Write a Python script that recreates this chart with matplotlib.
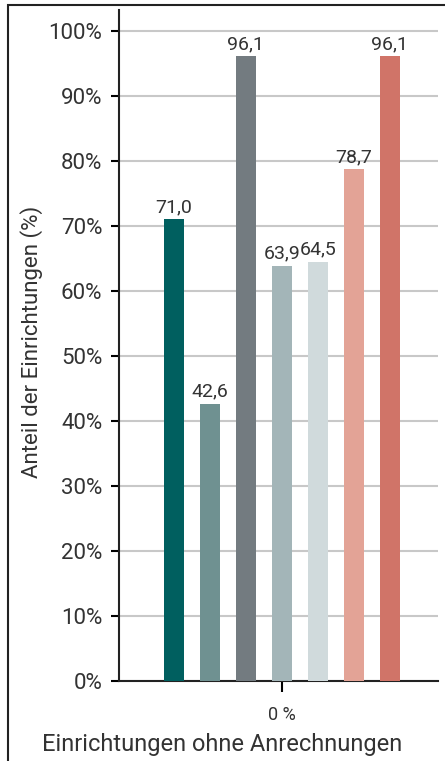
import numpy as np
import matplotlib.pyplot as plt
from matplotlib.patches import Rectangle

# Werte (%)
groups = ['0 %']
values = [71.0, 42.6, 96.1, 63.9, 64.5, 78.7, 96.1]
labels = ['71,0', '42,6', '96,1', '63,9', '64,5', '78,7', '96,1']
colors = ['#005f5f', '#6f9191', '#737b80', '#a3b5b8', '#d0dadc', '#e3a396', '#d07468']
yticks = np.arange(0, 101, 10)

plt.rcParams['font.family'] = ['Roboto', 'DejaVu Sans']
txt = '#333333'

fig = plt.figure(figsize=(4.45, 7.61), dpi=100)
ax = fig.add_axes([119 / 445, 80 / 761, 319 / 445, 671 / 761])

step = 0.113
width = 0.063
n = len(values)
for i, (v, lab, c) in enumerate(zip(values, labels, colors)):
    x = (i - (n - 1) / 2) * step
    ax.bar(x, v, width=width, color=c, zorder=3)
    ax.text(x, v + 0.5, lab, ha='center', va='bottom', fontsize=14, color=txt)

ax.set_xlim(-0.51, 0.49)
ax.set_ylim(0, 103.2)
ax.set_yticks(yticks)
ax.set_yticklabels([f'{t}%' for t in yticks], fontsize=16, color=txt)
ax.set_xticks([0])
ax.set_xticklabels(groups, fontsize=13, color=txt)
ax.tick_params(axis='y', length=6, width=1.5, pad=6)
ax.tick_params(axis='x', length=8, width=1.5, pad=10)
ax.grid(axis='y', color='#c8c8c8', linewidth=1.5, zorder=0)
for s in ['top', 'right']:
    ax.spines[s].set_visible(False)
for s in ['left', 'bottom']:
    ax.spines[s].set_linewidth(1.5)
    ax.spines[s].set_color('#222222')

ax.set_ylabel('Anteil der Einrichtungen (%)', fontsize=16, color=txt, va='center')
ax.yaxis.set_label_coords((32 - 119) / 319, (681 - 342) / 671)
fig.text(222 / 445, 1 - 745 / 761, 'Einrichtungen ohne Anrechnungen', ha='center', va='center',
         fontsize=17, color=txt)

# Rahmen
fig.patches.append(Rectangle((8 / 445, -0.1), 1.0, 1.1 - 5 / 761, transform=fig.transFigure,
                             fill=False, edgecolor='#222222', linewidth=1.5))

fig.savefig('out.png', dpi=100)
